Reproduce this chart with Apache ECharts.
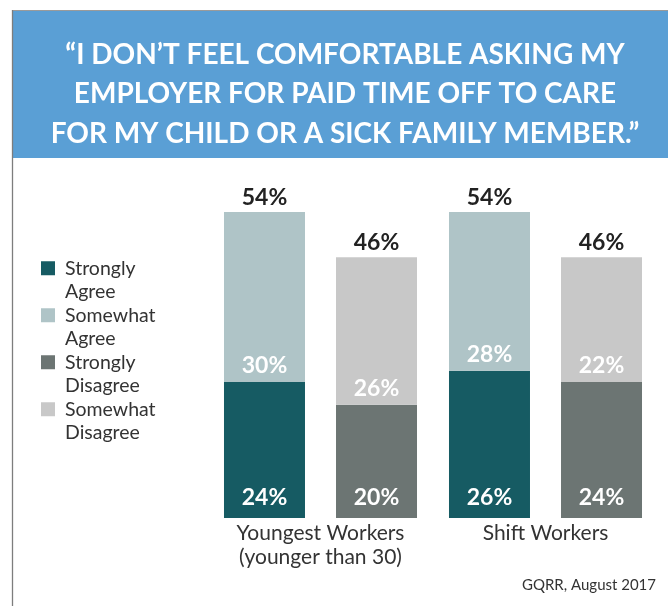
<!DOCTYPE html>
<html>
<head>
<meta charset="utf-8">
<style>
  html, body { margin: 0; padding: 0; background: #ffffff; }
  #chart { width: 668px; height: 606px; }
</style>
<script src="https://cdn.jsdelivr.net/npm/echarts@6/dist/echarts.min.js"></script>
</head>
<body>
<div id="chart"></div>
<script>
// Survey groups and the share answering each way (percent)
const groups = ['Youngest Workers\n(younger than 30)', 'Shift Workers'];
const stronglyAgree = [24, 26];
const somewhatAgree = [30, 28];
const stronglyDisagree = [20, 24];
const somewhatDisagree = [26, 22];

const agreeTotals = stronglyAgree.map((v, i) => v + somewhatAgree[i]);
const disagreeTotals = stronglyDisagree.map((v, i) => v + somewhatDisagree[i]);

const titleLines = [
  '\u201cI DON\u2019T FEEL COMFORTABLE ASKING MY',
  'EMPLOYER FOR PAID TIME OFF TO CARE',
  'FOR MY CHILD OR A SICK FAMILY MEMBER.\u201d'
];
const sourceNote = 'GQRR, August 2017';

const FONT = 'Lato, "Open Sans", sans-serif';
const C_SA = '#165b63';
const C_WA = '#afc4c7';
const C_SD = '#6c7573';
const C_WD = '#c8c8c8';

const chart = echarts.init(document.getElementById('chart'), null, { renderer: 'canvas' });

const insideLabel = {
  show: true,
  position: 'insideBottom',
  color: '#ffffff',
  fontFamily: FONT,
  fontSize: 23,
  fontWeight: 'bold',
  formatter: p => p.value + '%'
};

function segment(name, stack, color, data, dist) {
  return {
    name: name,
    type: 'bar',
    stack: stack,
    data: data,
    barWidth: 81,
    barGap: '38.3%',
    itemStyle: { color: color },
    label: Object.assign({}, insideLabel, { distance: dist }),
    emphasis: { disabled: true },
    animation: false
  };
}

// Zero-height cap on each stack that carries the stack total above the bar
function totalCap(stack, totals) {
  return {
    name: stack + 'Total',
    type: 'bar',
    stack: stack,
    data: totals.map(() => 0),
    barWidth: 81,
    barGap: '38.3%',
    itemStyle: { color: 'transparent' },
    label: {
      show: true,
      position: 'top',
      distance: 3,
      color: '#222222',
      fontFamily: FONT,
      fontSize: 23,
      fontWeight: 'bold',
      formatter: p => totals[p.dataIndex] + '%'
    },
    emphasis: { disabled: true },
    animation: false
  };
}

chart.setOption({
  animation: false,
  title: {
    text: titleLines.join('\n'),
    left: 340,
    top: 30,
    textAlign: 'center',
    textStyle: {
      color: '#ffffff',
      fontFamily: FONT,
      fontSize: 28,
      fontWeight: 'bold',
      lineHeight: 39.5
    }
  },
  graphic: [
    { type: 'rect', z: -10, shape: { x: 12, y: 10, width: 668, height: 148 }, style: { fill: '#5a9fd5' } },
    { type: 'line', z: -5, shape: { x1: 12, y1: 10.5, x2: 668, y2: 10.5 }, style: { stroke: '#9a9a9a', lineWidth: 1 } },
    { type: 'line', z: -5, shape: { x1: 12.5, y1: 10, x2: 12.5, y2: 606 }, style: { stroke: '#7d7d7d', lineWidth: 1.3 } },
    {
      type: 'text', right: 12, top: 578,
      style: { text: sourceNote, fill: '#333333', font: '15px ' + FONT }
    }
  ],
  legend: {
    orient: 'vertical',
    left: 41,
    top: 233,
    padding: 0,
    itemWidth: 14,
    itemHeight: 14,
    itemGap: -23.5,
    icon: 'rect',
    selectedMode: false,
    data: ['Strongly\nAgree', 'Somewhat\nAgree', 'Strongly\nDisagree', 'Somewhat\nDisagree'],
    // leading blank line keeps the swatch level with the first text line
    formatter: name => '\n' + name,
    textStyle: {
      color: '#333333',
      fontFamily: FONT,
      fontSize: 19.5,
      lineHeight: 23.5,
      padding: [0, 0, 0, 5]
    }
  },
  grid: { left: 208, right: 10, top: 178, bottom: 88, containLabel: false },
  xAxis: {
    type: 'category',
    data: groups,
    axisLine: { show: false },
    axisTick: { show: false },
    axisLabel: {
      color: '#333333',
      fontFamily: FONT,
      fontSize: 21,
      lineHeight: 24,
      margin: 3
    }
  },
  yAxis: {
    type: 'value',
    min: 0,
    max: 60,
    show: false,
    splitLine: { show: false }
  },
  series: [
    segment('Strongly\nAgree', 'agree', C_SA, stronglyAgree, 9),
    segment('Somewhat\nAgree', 'agree', C_WA, somewhatAgree, 5),
    totalCap('agree', agreeTotals),
    segment('Strongly\nDisagree', 'disagree', C_SD, stronglyDisagree, 9),
    segment('Somewhat\nDisagree', 'disagree', C_WD, somewhatDisagree, 5),
    totalCap('disagree', disagreeTotals)
  ]
});
</script>
</body>
</html>
